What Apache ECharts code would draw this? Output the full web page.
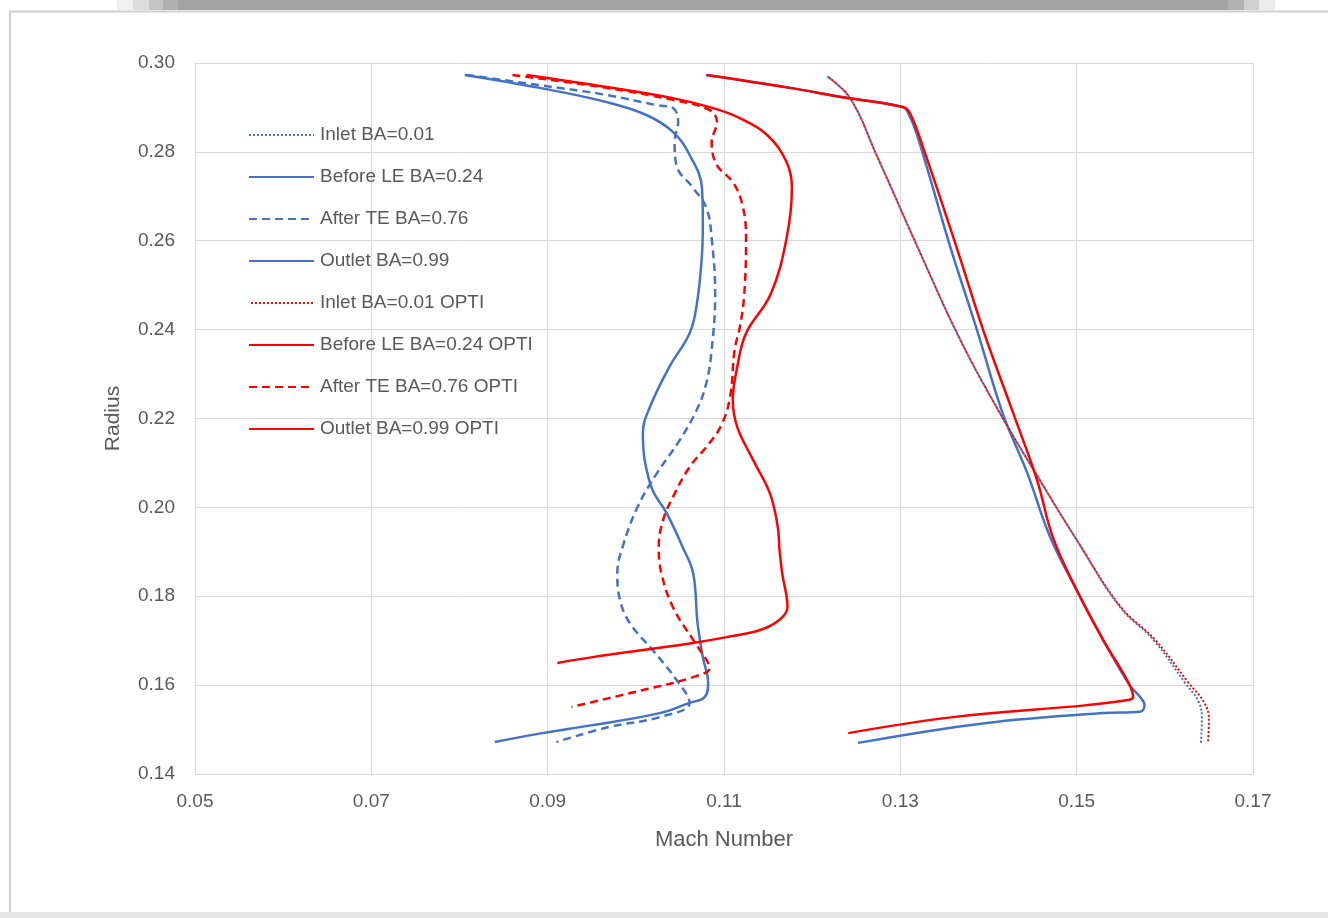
<!DOCTYPE html>
<html>
<head>
<meta charset="utf-8">
<title>Mach Number vs Radius</title>
<script src="https://cdn.jsdelivr.net/npm/echarts@6/dist/echarts.min.js"></script>
<style>
  html, body { margin: 0; padding: 0; background: #ffffff; }
  #chart { width: 1328px; height: 918px; }
</style>
</head>
<body>
<div id="chart"></div>
<script>
// Spanwise Mach number profiles (x = Mach number, y = radius)
const inletMach = [0.1217, 0.1243, 0.1273, 0.1322, 0.1368, 0.1413, 0.1458, 0.1500, 0.1549, 0.1587, 0.1623, 0.1639, 0.1642, 0.1641];
const inletRadius = [0.2970, 0.2921, 0.2793, 0.2575, 0.2377, 0.2212, 0.2062, 0.1927, 0.1776, 0.1702, 0.1605, 0.1560, 0.1522, 0.1470];

const beforeLeMach = [0.1080, 0.1175, 0.1235, 0.1303, 0.1309, 0.1319, 0.1357, 0.1387, 0.1416, 0.1444, 0.1470, 0.1500, 0.1530, 0.1560, 0.1572, 0.1577, 0.1572, 0.1530, 0.1398, 0.1252];
const beforeLeRadius = [0.2973, 0.2944, 0.2923, 0.2901, 0.2887, 0.2838, 0.2584, 0.2399, 0.2212, 0.2077, 0.1933, 0.1814, 0.1702, 0.1600, 0.1573, 0.1555, 0.1540, 0.1537, 0.1515, 0.1470];

const afterTeMach = [0.0808, 0.0891, 0.0967, 0.1024, 0.1042, 0.1048, 0.1044, 0.1046, 0.1065, 0.1080, 0.1086, 0.1090, 0.1086, 0.1080, 0.1069, 0.1050, 0.1024, 0.1002, 0.0985, 0.0979, 0.0982, 0.0993, 0.1019, 0.1046, 0.1061, 0.1027, 0.0970, 0.0910];
const afterTeRadius = [0.2973, 0.2950, 0.2928, 0.2905, 0.2899, 0.2867, 0.2822, 0.2770, 0.2719, 0.2674, 0.2606, 0.2480, 0.2354, 0.2280, 0.2219, 0.2152, 0.2077, 0.2001, 0.1911, 0.1852, 0.1792, 0.1740, 0.1679, 0.1612, 0.1560, 0.1528, 0.1506, 0.1472];

const outletMach = [0.0806, 0.0891, 0.0967, 0.1012, 0.1042, 0.1061, 0.1075, 0.1076, 0.1075, 0.1069, 0.1061, 0.1038, 0.1016, 0.1008, 0.1010, 0.1019, 0.1035, 0.1053, 0.1065, 0.1070, 0.1076, 0.1082, 0.1078, 0.1061, 0.1027, 0.0951, 0.0894, 0.0840];
const outletRadius = [0.2973, 0.2944, 0.2912, 0.2883, 0.2845, 0.2793, 0.2719, 0.2642, 0.2568, 0.2455, 0.2392, 0.2316, 0.2226, 0.2167, 0.2107, 0.2039, 0.1987, 0.1911, 0.1852, 0.1740, 0.1663, 0.1605, 0.1573, 0.1560, 0.1537, 0.1510, 0.1492, 0.1472];

const inletOptiMach = [0.1217, 0.1243, 0.1273, 0.1322, 0.1368, 0.1413, 0.1458, 0.1500, 0.1550, 0.1589, 0.1627, 0.1645, 0.1650, 0.1649];
const inletOptiRadius = [0.2970, 0.2921, 0.2793, 0.2575, 0.2377, 0.2212, 0.2062, 0.1927, 0.1776, 0.1702, 0.1605, 0.1560, 0.1522, 0.1470];

const beforeLeOptiMach = [0.1080, 0.1175, 0.1235, 0.1303, 0.1311, 0.1326, 0.1364, 0.1394, 0.1428, 0.1455, 0.1473, 0.1500, 0.1530, 0.1557, 0.1564, 0.1560, 0.1512, 0.1360, 0.1241];
const beforeLeOptiRadius = [0.2973, 0.2944, 0.2923, 0.2901, 0.2887, 0.2809, 0.2584, 0.2399, 0.2212, 0.2062, 0.1933, 0.1814, 0.1702, 0.1612, 0.1573, 0.1567, 0.1555, 0.1528, 0.1492];

const afterTeOptiMach = [0.0860, 0.0967, 0.1042, 0.1084, 0.1092, 0.1086, 0.1092, 0.1110, 0.1121, 0.1125, 0.1123, 0.1118, 0.1112, 0.1107, 0.1097, 0.1080, 0.1061, 0.1042, 0.1031, 0.1026, 0.1029, 0.1042, 0.1065, 0.1080, 0.1084, 0.1065, 0.1008, 0.0927];
const afterTeOptiRadius = [0.2973, 0.2944, 0.2917, 0.2894, 0.2867, 0.2822, 0.2770, 0.2732, 0.2680, 0.2606, 0.2480, 0.2406, 0.2354, 0.2250, 0.2185, 0.2136, 0.2091, 0.2023, 0.1972, 0.1911, 0.1852, 0.1776, 0.1702, 0.1657, 0.1639, 0.1618, 0.1589, 0.1551];

const outletOptiMach = [0.0876, 0.0967, 0.1042, 0.1087, 0.1118, 0.1149, 0.1171, 0.1177, 0.1171, 0.1153, 0.1125, 0.1115, 0.1110, 0.1115, 0.1133, 0.1152, 0.1161, 0.1163, 0.1166, 0.1172, 0.1163, 0.1141, 0.1103, 0.1065, 0.1008, 0.0951, 0.0911];
const outletOptiRadius = [0.2973, 0.2946, 0.2921, 0.2899, 0.2876, 0.2838, 0.2777, 0.2719, 0.2606, 0.2480, 0.2392, 0.2316, 0.2242, 0.2181, 0.2107, 0.2032, 0.1956, 0.1904, 0.1852, 0.1776, 0.1747, 0.1724, 0.1708, 0.1695, 0.1679, 0.1663, 0.1650];

const seriesNames = [
  'Inlet BA=0.01', 'Before LE BA=0.24', 'After TE BA=0.76', 'Outlet BA=0.99',
  'Inlet BA=0.01 OPTI', 'Before LE BA=0.24 OPTI', 'After TE BA=0.76 OPTI', 'Outlet BA=0.99 OPTI'
];

const BLUE = '#4472c4';
const RED = '#ff0000';
const TEXT = '#595959';
const FONT = 'Liberation Sans, Arial, sans-serif';

function pairs(xs, ys) { return xs.map((x, i) => [x, ys[i]]); }

function line(name, xs, ys, color, type, width, offset) {
  return {
    name: name,
    type: 'line',
    data: pairs(xs, ys),
    showSymbol: false,
    symbol: 'none',
    smooth: 0.4,
    animation: false,
    lineStyle: { color: color, width: width, type: type, dashOffset: offset || 0, cap: 'butt' },
    itemStyle: { color: color }
  };
}

const dots = [2, 2];
const dashes = [8, 5];

const chart = echarts.init(document.getElementById('chart'), null, { renderer: 'canvas' });
chart.setOption({
  backgroundColor: '#ffffff',
  animation: false,
  graphic: [
    // page frame around the chart card
    { type: 'rect', shape: { x: 117, y: 0, width: 16, height: 10 }, style: { fill: '#f0f0f0' }, silent: true },
    { type: 'rect', shape: { x: 133, y: 0, width: 16, height: 10 }, style: { fill: '#dcdcdc' }, silent: true },
    { type: 'rect', shape: { x: 149, y: 0, width: 14, height: 10 }, style: { fill: '#c4c4c4' }, silent: true },
    { type: 'rect', shape: { x: 163, y: 0, width: 15, height: 10 }, style: { fill: '#b0b0b0' }, silent: true },
    { type: 'rect', shape: { x: 178, y: 0, width: 1050, height: 10 }, style: { fill: '#a3a3a3' }, silent: true },
    { type: 'rect', shape: { x: 1228, y: 0, width: 16, height: 10 }, style: { fill: '#b2b2b2' }, silent: true },
    { type: 'rect', shape: { x: 1244, y: 0, width: 15, height: 10 }, style: { fill: '#d0d0d0' }, silent: true },
    { type: 'rect', shape: { x: 1259, y: 0, width: 16, height: 10 }, style: { fill: '#ececec' }, silent: true },
    { type: 'polyline', shape: { points: [[10, 913], [10, 11.5], [1328, 11.5]] }, style: { stroke: '#cfcfcf', lineWidth: 2, fill: null }, silent: true },
    { type: 'rect', shape: { x: 0, y: 912, width: 1328, height: 6 }, style: { fill: '#e4e4e4' }, silent: true }
  ],
  grid: { left: 195, right: 75, top: 63, bottom: 144, containLabel: false },
  legend: {
    orient: 'vertical',
    left: 248,
    top: 125,
    padding: 0,
    itemWidth: 65,
    itemHeight: 14,
    itemGap: 22,
    data: seriesNames,
    itemStyle: { opacity: 0 },
    textStyle: { color: TEXT, fontSize: 19, lineHeight: 20, fontFamily: FONT, padding: [0, 0, 0, 1] }
  },
  xAxis: {
    type: 'value',
    min: 0.05, max: 0.17, interval: 0.02,
    name: 'Mach Number',
    nameLocation: 'middle',
    nameGap: 55,
    nameTextStyle: { color: TEXT, fontSize: 22, fontFamily: FONT },
    axisLine: { show: true, lineStyle: { color: '#d9d9d9', width: 1 } },
    axisTick: { show: false },
    axisLabel: { color: TEXT, fontSize: 19, fontFamily: FONT, margin: 18, formatter: v => v.toFixed(2) },
    splitLine: { show: true, lineStyle: { color: '#d9d9d9', width: 1 } }
  },
  yAxis: {
    type: 'value',
    min: 0.14, max: 0.30, interval: 0.02,
    name: 'Radius',
    nameLocation: 'middle',
    nameGap: 71,
    nameTextStyle: { color: TEXT, fontSize: 21, fontFamily: FONT },
    axisLine: { show: true, lineStyle: { color: '#d9d9d9', width: 1 } },
    axisTick: { show: false },
    axisLabel: { color: TEXT, fontSize: 19, fontFamily: FONT, margin: 20, formatter: v => v.toFixed(2) },
    splitLine: { show: true, lineStyle: { color: '#d9d9d9', width: 1 } }
  },
  series: [
    line(seriesNames[0], inletMach, inletRadius, BLUE, dots, 2),
    line(seriesNames[1], beforeLeMach, beforeLeRadius, BLUE, 'solid', 2.5),
    line(seriesNames[2], afterTeMach, afterTeRadius, BLUE, dashes, 2.5),
    line(seriesNames[3], outletMach, outletRadius, BLUE, 'solid', 2.5),
    line(seriesNames[4], inletOptiMach, inletOptiRadius, RED, dots, 2, 2),
    line(seriesNames[5], beforeLeOptiMach, beforeLeOptiRadius, RED, 'solid', 2.5),
    line(seriesNames[6], afterTeOptiMach, afterTeOptiRadius, RED, dashes, 2.5),
    line(seriesNames[7], outletOptiMach, outletOptiRadius, RED, 'solid', 2.5)
  ]
});
</script>
</body>
</html>
